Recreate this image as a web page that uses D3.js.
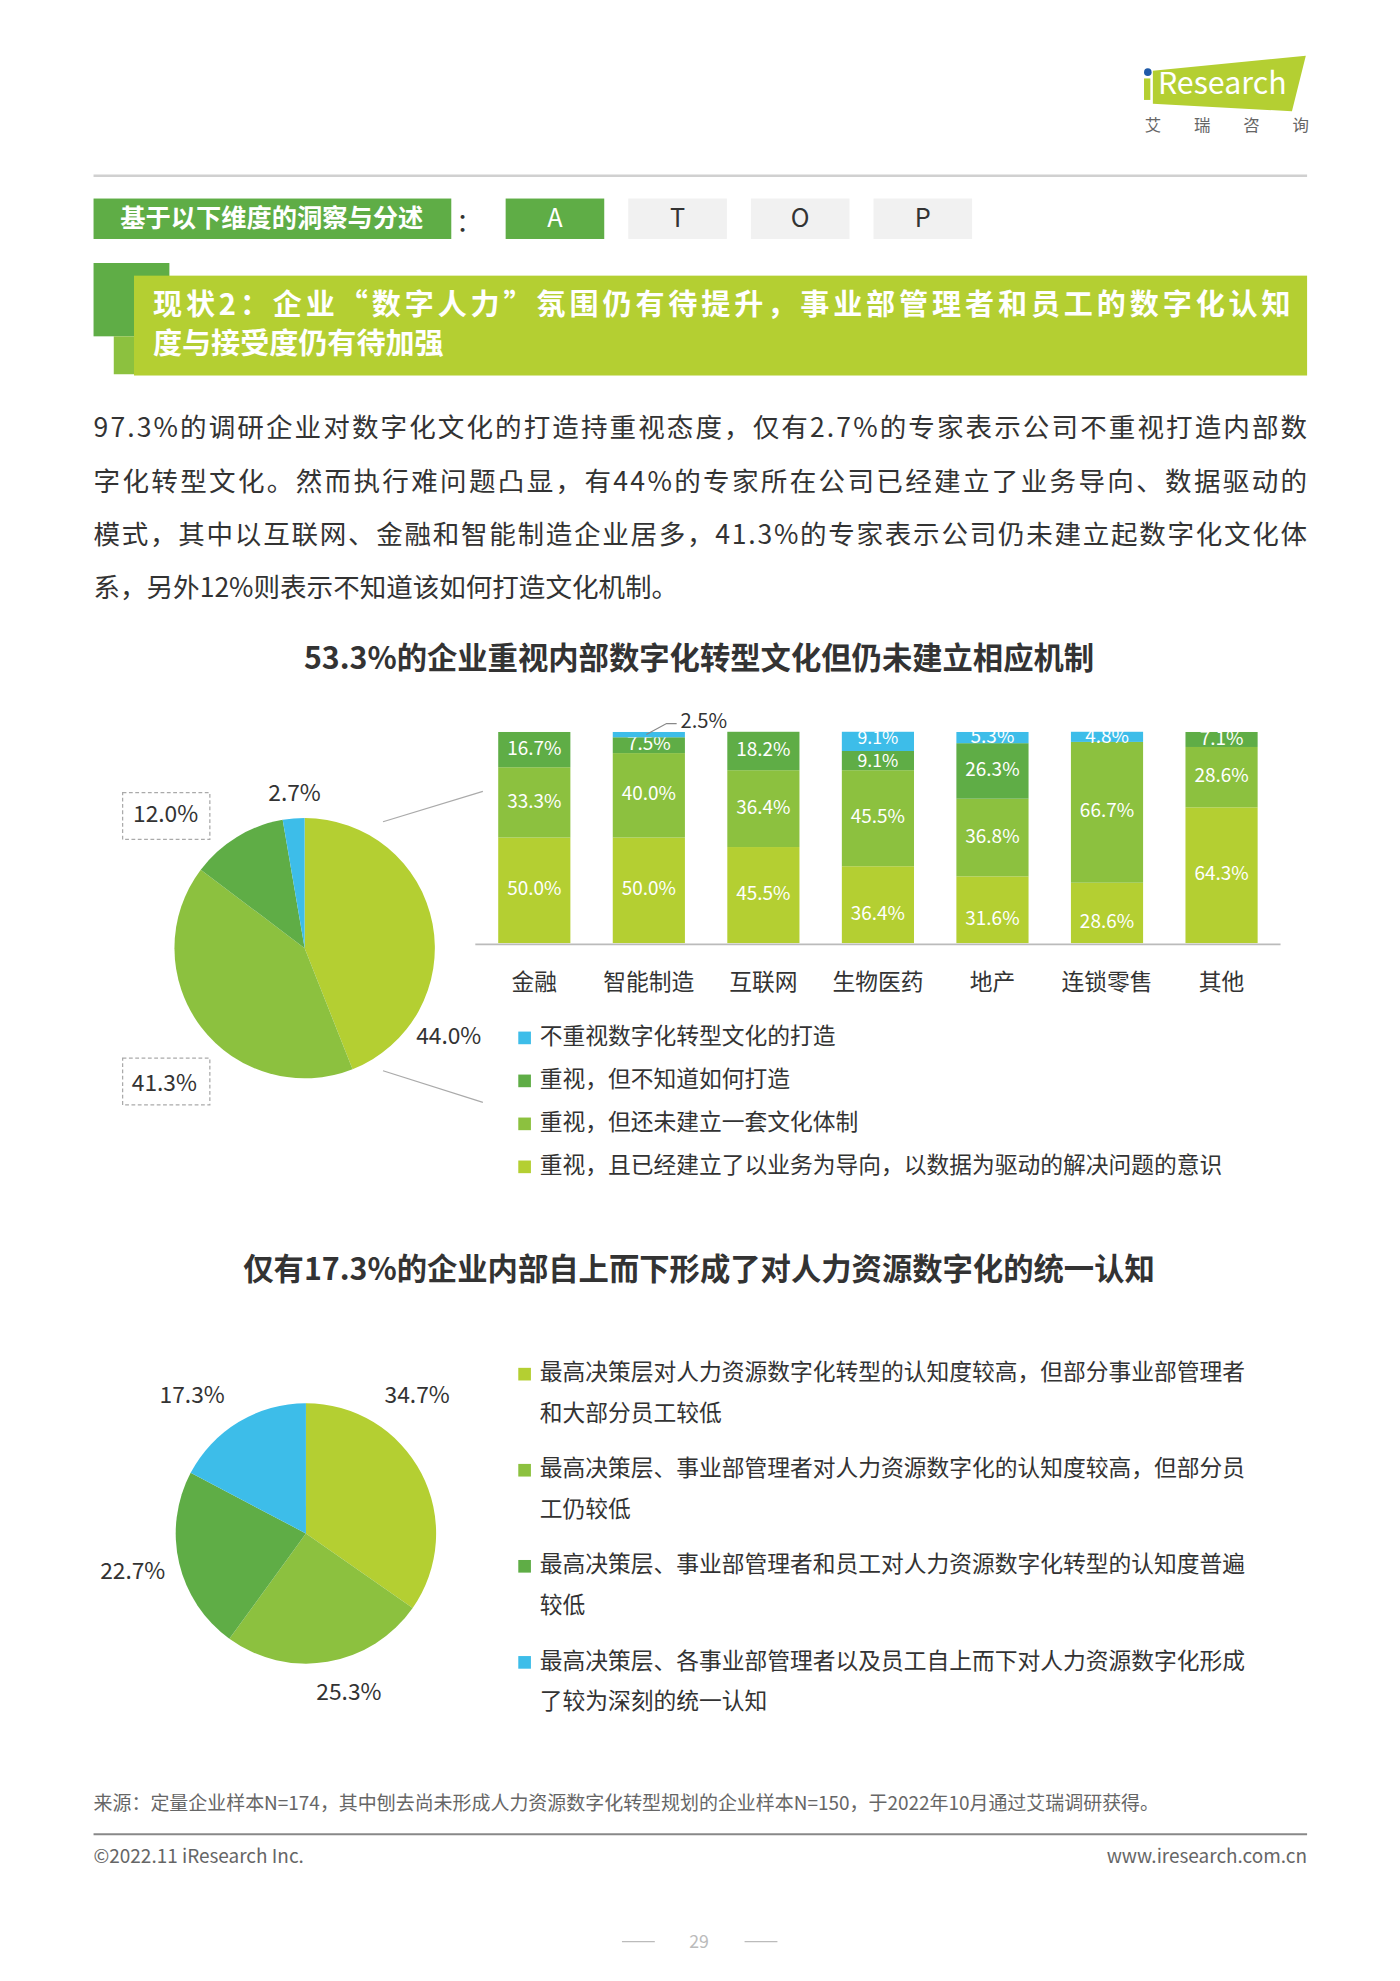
<!DOCTYPE html>
<html><head><meta charset="utf-8">
<script src="https://cdn.jsdelivr.net/npm/d3@7"></script>
<style>body{margin:0;background:#fff}svg{display:block;font-family:"Noto Sans CJK SC","Noto Sans",sans-serif}</style>
</head><body>
<svg id="c" width="1400" height="1981" viewBox="0 0 1107.5 1567"></svg>
<script>
const categories=["金融","智能制造","互联网","生物医药","地产","连锁零售","其他"];
const seriesNames=["重视，且已经建立了以业务为导向，以数据为驱动的解决问题的意识","重视，但还未建立一套文化体制","重视，但不知道如何打造","不重视数字化转型文化的打造"];
const sBuilt=[50.0,50.0,45.5,36.4,31.6,28.6,64.3];
const sNotBuilt=[33.3,40.0,36.4,45.5,36.8,66.7,28.6];
const sDontKnow=[16.7,7.5,18.2,9.1,26.3,0,7.1];
const sNoValue=[0,2.5,0,9.1,5.3,4.8,0];
const colors=["#b4cf32","#8cc13f","#5fad46","#3dbde9"];
const pie1Labels=["重视，且已经建立","重视，但还未建立","重视，但不知道","不重视"];
const pie1Values=[44.0,41.3,12.0,2.7];
const pie2Labels=["最高决策层对人力资源数字化转型的认知度较高，但部分事业部管理者|和大部分员工较低","最高决策层、事业部管理者对人力资源数字化的认知度较高，但部分员|工仍较低","最高决策层、事业部管理者和员工对人力资源数字化转型的认知度普遍|较低","最高决策层、各事业部管理者以及员工自上而下对人力资源数字化形成|了较为深刻的统一认知"];
const pie2Values=[34.7,25.3,22.7,17.3];

const svg=d3.select("#c");
function txt(x,y,s,o={}){const t=svg.append("text").attr("x",x).attr("y",y).text(s)
 .attr("font-size",o.size||18).attr("fill",o.fill||"#333").attr("text-anchor",o.anchor||"start")
 .attr("font-weight",o.weight||"normal").attr("dominant-baseline","middle");
 if(o.len)t.attr("textLength",o.len).attr("lengthAdjust","spacing");return t;}

// logo
svg.append("path").attr("d","M912,56 L1033,44 L1022,88 L912,82 Z").attr("fill","#b4cf32");
svg.append("circle").attr("cx",908).attr("cy",57).attr("r",3).attr("fill","#1f5aa8");
svg.append("rect").attr("x",905).attr("y",62).attr("width",5).attr("height",17).attr("fill","#b4cf32");
txt(916,68,"Research",{size:24,fill:"#fff"});
["艾","瑞","咨","询"].forEach((c,i)=>txt(912+i*39,100,c,{size:13,fill:"#666",anchor:"middle"}));
svg.append("line").attr("x1",74).attr("x2",1034).attr("y1",139).attr("y2",139).attr("stroke","#d0d0d0").attr("stroke-width",2);

// tag row
svg.append("rect").attr("x",74).attr("y",157).attr("width",283).attr("height",32).attr("fill","#5fad46");
txt(215,174,"基于以下维度的洞察与分述",{size:20,fill:"#fff",weight:"bold",anchor:"middle"});
txt(371,177,"：",{size:20,fill:"#333",anchor:"middle"});
["A","T","O","P"].forEach((c,i)=>{const x=400+i*97;
 svg.append("rect").attr("x",x).attr("y",157).attr("width",78).attr("height",32).attr("fill",i?"#f1f1f1":"#5fad46");
 txt(x+39,174,c,{size:20,fill:i?"#333":"#fff",anchor:"middle"});});

// banner
svg.append("rect").attr("x",74).attr("y",208).attr("width",60).attr("height",58).attr("fill","#5fad46");
svg.append("rect").attr("x",90).attr("y",266).attr("width",20).attr("height",30).attr("fill","#8cc13f");
svg.append("rect").attr("x",106).attr("y",218).attr("width",928).attr("height",79).attr("fill","#b4cf32");
txt(121,243,"现状2：企业“数字人力”氛围仍有待提升，事业部管理者和员工的数字化认知",{size:23,fill:"#fff",weight:"bold",len:900});
txt(121,274,"度与接受度仍有待加强",{size:23,fill:"#fff",weight:"bold"});

// paragraph
const para=["97.3%的调研企业对数字化文化的打造持重视态度，仅有2.7%的专家表示公司不重视打造内部数","字化转型文化。然而执行难问题凸显，有44%的专家所在公司已经建立了业务导向、数据驱动的","模式，其中以互联网、金融和智能制造企业居多，41.3%的专家表示公司仍未建立起数字化文化体","系，另外12%则表示不知道该如何打造文化机制。"];
para.forEach((p,i)=>txt(74,340+i*42.3,p,{size:21,fill:"#333",len:i<3?960:null}));

// chart 1 title
txt(553,523,"53.3%的企业重视内部数字化转型文化但仍未建立相应机制",{size:24,weight:"bold",anchor:"middle"});

// stacked bars
const series=[sBuilt,sNotBuilt,sDontKnow,sNoValue];
const rows=categories.map((c,i)=>{const o={cat:c};series.forEach((s,k)=>o["k"+k]=s[i]);return o;});
const stack=d3.stack().keys(["k0","k1","k2","k3"])(rows);
const x=d3.scaleBand().domain(categories).range([376,1013]).paddingInner(0.37).paddingOuter(0.2);
const y=d3.scaleLinear().domain([0,100]).range([746,579]);
stack.forEach((layer,k)=>{
 const g=svg.append("g");
 layer.forEach((d,i)=>{const v=d[1]-d[0]; if(v<=0)return;
  g.append("rect").attr("x",x(categories[i])).attr("width",x.bandwidth()).attr("y",y(d[1])).attr("height",y(d[0])-y(d[1])).attr("fill",colors[k]);
  if(categories[i]==="智能制造"&&k===3)return;
  let cy=Math.max((y(d[0])+y(d[1]))/2,584);
  let sz=15;
  if(categories[i]==="生物医药"&&(k===3||k===2)){ sz=14; cy=k===3?585:603; }
  txt(x(categories[i])+x.bandwidth()/2,cy+(k===0&&v<40?8:0),v.toFixed(1)+"%",{size:sz,fill:"#fff",anchor:"middle"});
 });
});
{const cx=x("智能制造")+x.bandwidth()/2;
 svg.append("path").attr("d",`M${cx-2},${y(98.8)} L${cx+14},${y(104)} L${cx+22},${y(104)}`).attr("fill","none").attr("stroke","#888");
 txt(cx+25,y(104.5),"2.5%",{size:16,fill:"#333"});}
svg.append("line").attr("x1",376).attr("x2",1013).attr("y1",747).attr("y2",747).attr("stroke","#bbb").attr("stroke-width",1.5);
categories.forEach(c=>txt(x(c)+x.bandwidth()/2,778,c,{size:18,anchor:"middle"}));

// pie 1
const pie=d3.pie().sort(null).value(d=>d);
const arc=d3.arc().innerRadius(0).outerRadius(103);
const p1=svg.append("g").attr("transform","translate(241,750)");
p1.selectAll("path").data(pie(pie1Values)).join("path").attr("d",arc).attr("fill",(d,i)=>colors[i]);
txt(355,821,"44.0%",{size:18,anchor:"middle"});
txt(130,858,"41.3%",{size:18,anchor:"middle"});
txt(131,645,"12.0%",{size:18,anchor:"middle"});
txt(233,629,"2.7%",{size:18,anchor:"middle"});
[[97,627,69,37],[97,837,69,37]].forEach(r=>svg.append("rect").attr("x",r[0]).attr("y",r[1]).attr("width",r[2]).attr("height",r[3]).attr("fill","none").attr("stroke","#aaa").attr("stroke-dasharray","3,2"));
svg.append("line").attr("x1",303).attr("y1",650).attr("x2",382).attr("y2",626).attr("stroke","#aaa");
svg.append("line").attr("x1",303).attr("y1",847).attr("x2",382).attr("y2",872).attr("stroke","#aaa");

// legend 1
[3,2,1,0].forEach((k,i)=>{const yy=821+i*34;
 svg.append("rect").attr("x",410).attr("y",yy-5).attr("width",10).attr("height",10).attr("fill",colors[k]);
 txt(427,yy,seriesNames[k],{size:18});});

// chart 2
txt(553,1006,"仅有17.3%的企业内部自上而下形成了对人力资源数字化的统一认知",{size:24,weight:"bold",anchor:"middle"});
const p2=svg.append("g").attr("transform","translate(242,1213)");
p2.selectAll("path").data(pie(pie2Values)).join("path").attr("d",arc).attr("fill",(d,i)=>colors[i]);
txt(330,1105,"34.7%",{size:18,anchor:"middle"});
txt(276,1340,"25.3%",{size:18,anchor:"middle"});
txt(105,1244,"22.7%",{size:18,anchor:"middle"});
txt(152,1105,"17.3%",{size:18,anchor:"middle"});
pie2Labels.forEach((l,i)=>{const yy=1087+i*76;const parts=l.split("|");
 svg.append("rect").attr("x",410).attr("y",yy-5).attr("width",10).attr("height",10).attr("fill",colors[i]);
 txt(427,yy,parts[0],{size:18}); txt(427,yy+32,parts[1],{size:18});});

// footer
txt(74,1428,"来源：定量企业样本N=174，其中刨去尚未形成人力资源数字化转型规划的企业样本N=150，于2022年10月通过艾瑞调研获得。",{size:15,fill:"#666"});
svg.append("line").attr("x1",74).attr("x2",1034).attr("y1",1451).attr("y2",1451).attr("stroke","#888").attr("stroke-width",1.5);
txt(74,1470,"©2022.11 iResearch Inc.",{size:15,fill:"#666"});
txt(1034,1470,"www.iresearch.com.cn",{size:15,fill:"#666",anchor:"end"});
txt(553,1537,"29",{size:14,fill:"#bbb",anchor:"middle"});
svg.append("line").attr("x1",492).attr("x2",518).attr("y1",1536).attr("y2",1536).attr("stroke","#bbb");
svg.append("line").attr("x1",589).attr("x2",615).attr("y1",1536).attr("y2",1536).attr("stroke","#bbb");
</script></body></html>
